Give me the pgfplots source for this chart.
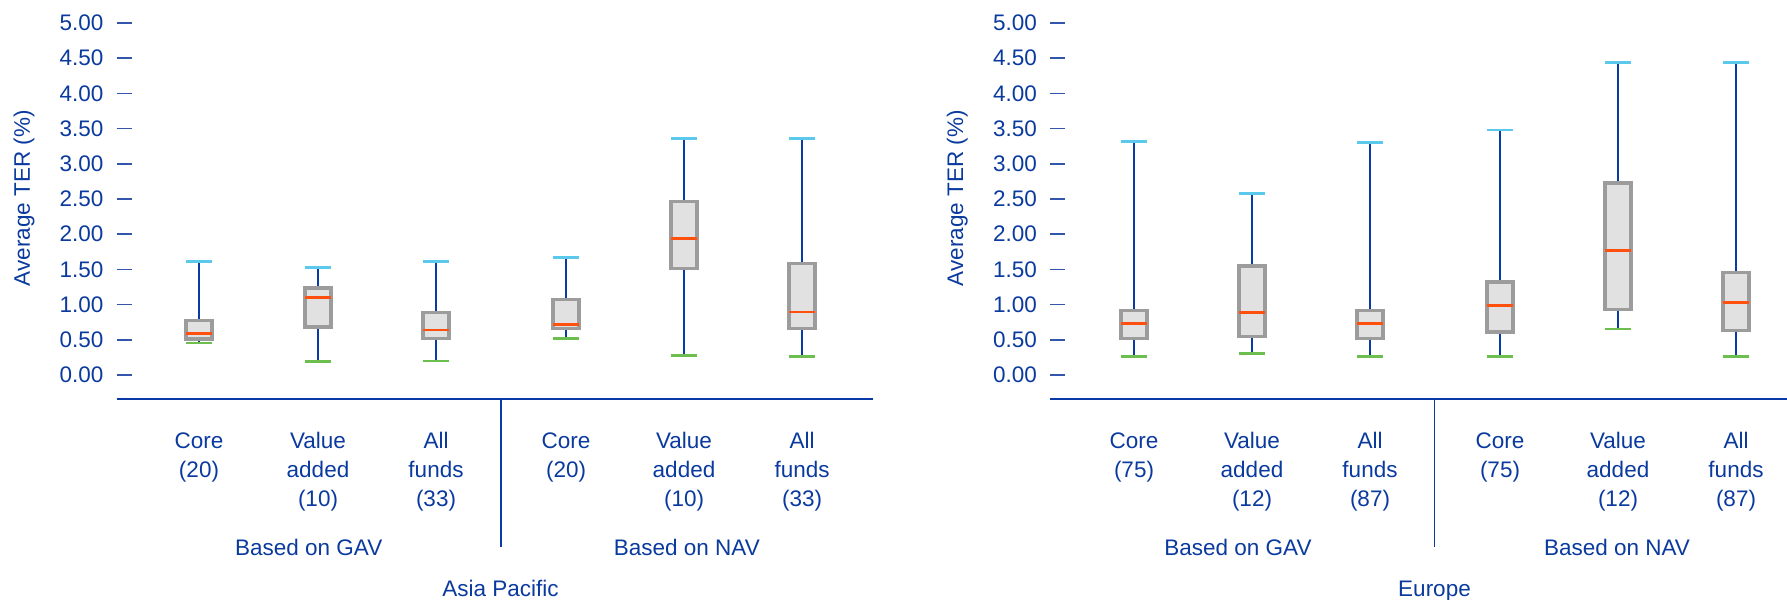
\documentclass[border=0pt]{standalone}
\usepackage{pgfplots}
\pgfplotsset{compat=1.18}
\usepackage{fontspec}
\setmainfont{Liberation Sans}
\definecolor{txtblue}{HTML}{0A3A9E}
\definecolor{wblue}{HTML}{0A3AA5}
\definecolor{tickblue}{HTML}{3355AA}
\definecolor{boxgray}{HTML}{9C9C9C}
\definecolor{boxfill}{HTML}{E1E1E1}
\definecolor{medorange}{HTML}{FF5010}
\definecolor{capcyan}{HTML}{5BC9EC}
\definecolor{capgreen}{HTML}{6CBF4F}
% left edge, centre, right edge, min, q1, median, q3, max
\newcommand{\tbox}[8]{%
  \addplot[wblue, line width=1.05pt] coordinates {(#2,#4) (#2,#8)};
  \addplot[draw=boxgray, fill=boxfill, line width=1.3pt] coordinates {(#1,#5) (#3,#5) (#3,#7) (#1,#7)} -- cycle;
  \addplot[medorange, line width=1.1pt] coordinates {(#1,#6) (#3,#6)};
  \addplot[capcyan, line width=1.1pt] coordinates {(#1,#8) (#3,#8)};
  \addplot[capgreen, line width=1.1pt] coordinates {(#1,#4) (#3,#4)};
}
\pgfplotsset{
  terbox/.style={
    scale only axis,
    height=156.03pt,
    ymin=-0.3409, ymax=5.2,
    axis x line*=bottom, axis y line*=left,
    y axis line style={draw=none},
    x axis line style={draw=wblue, line width=0.7pt},
    ytick={0,0.5,...,5},
    tick align=inside,
    major tick length=6pt,
    ytick style={draw=tickblue, line width=0.65pt},
    xtick style={draw=none},
    scaled y ticks=false,
    yticklabel style={/pgf/number format/fixed, /pgf/number format/fixed zerofill, /pgf/number format/precision=2, /pgf/number format/assume math mode=true,
      font=\fontsize{9}{11}\selectfont, text=txtblue, anchor=east, inner sep=0pt, xshift=-5pt},
    xticklabel style={font=\fontsize{9}{11.6}\selectfont, text=txtblue, align=center, anchor=north, inner sep=0pt, yshift=-13.2pt},
    ylabel={Average TER (\%)},
    ylabel style={font=\fontsize{9}{11}\selectfont, text=txtblue, anchor=center},
    clip=false,
  },
}
\begin{document}
\begin{tikzpicture}
\useasboundingbox (0,0) rectangle (714.8pt,240pt);
% ---------------- Asia Pacific ----------------
\begin{axis}[terbox, at={(46.6pt,80.4pt)}, anchor=south west,
  width=302.44pt,
  xmin=116.5, xmax=872.6,
  xtick={199,318,436,566,684,802},
  xticklabels={{Core\\(20)},{Value\\added\\(10)},{All\\funds\\(33)},{Core\\(20)},{Value\\added\\(10)},{All\\funds\\(33)}},
  ylabel style={at={(axis description cs:-0.1223,0.515)}},
]
\tbox{186}{199}{212}{0.455}{0.510}{0.585}{0.770}{1.615}
\tbox{305}{318}{331}{0.194}{0.682}{1.104}{1.236}{1.524}
\tbox{423}{436}{449}{0.199}{0.516}{0.639}{0.890}{1.610}
\tbox{553}{566}{579}{0.516}{0.660}{0.722}{1.075}{1.673}
\tbox{671}{684}{697}{0.275}{1.515}{1.937}{2.467}{3.357}
\tbox{789}{802}{815}{0.265}{0.658}{0.895}{1.582}{3.357}
\draw[wblue, line width=0.7pt] (axis cs:501,-0.3409) -- (axis cs:501,-2.443);
\node[anchor=base, font=\fontsize{9}{11}\selectfont, text=txtblue] at (axis cs:308.7,-2.571) {Based on GAV};
\node[anchor=base, font=\fontsize{9}{11}\selectfont, text=txtblue] at (axis cs:686.8,-2.571) {Based on NAV};
\node[anchor=base, font=\fontsize{9}{11}\selectfont, text=txtblue] at (axis cs:500.5,-3.153) {Asia Pacific};
\end{axis}
% ---------------- Europe ----------------
\begin{axis}[terbox, at={(420pt,80.4pt)}, anchor=south west,
  width=300pt,
  xmin=1050, xmax=1800,
  xtick={1134,1252,1370,1500,1618,1736},
  xticklabels={{Core\\(75)},{Value\\added\\(12)},{All\\funds\\(87)},{Core\\(75)},{Value\\added\\(12)},{All\\funds\\(87)}},
  ylabel style={at={(axis description cs:-0.1235,0.515)}},
]
\tbox{1121}{1134}{1147}{0.265}{0.516}{0.734}{0.918}{3.314}
\tbox{1239}{1252}{1265}{0.308}{0.545}{0.890}{1.548}{2.580}
\tbox{1357}{1370}{1383}{0.260}{0.516}{0.729}{0.918}{3.305}
\tbox{1487}{1500}{1513}{0.265}{0.611}{0.985}{1.321}{3.480}
\tbox{1605}{1618}{1631}{0.653}{0.933}{1.771}{2.727}{4.440}
\tbox{1723}{1736}{1749}{0.265}{0.634}{1.032}{1.458}{4.440}
\draw[wblue, line width=0.7pt] (axis cs:1434.5,-0.3409) -- (axis cs:1434.5,-2.443);
\node[anchor=base, font=\fontsize{9}{11}\selectfont, text=txtblue] at (axis cs:1238,-2.571) {Based on GAV};
\node[anchor=base, font=\fontsize{9}{11}\selectfont, text=txtblue] at (axis cs:1617,-2.571) {Based on NAV};
\node[anchor=base, font=\fontsize{9}{11}\selectfont, text=txtblue] at (axis cs:1434.5,-3.153) {Europe};
\end{axis}
\end{tikzpicture}
\end{document}
